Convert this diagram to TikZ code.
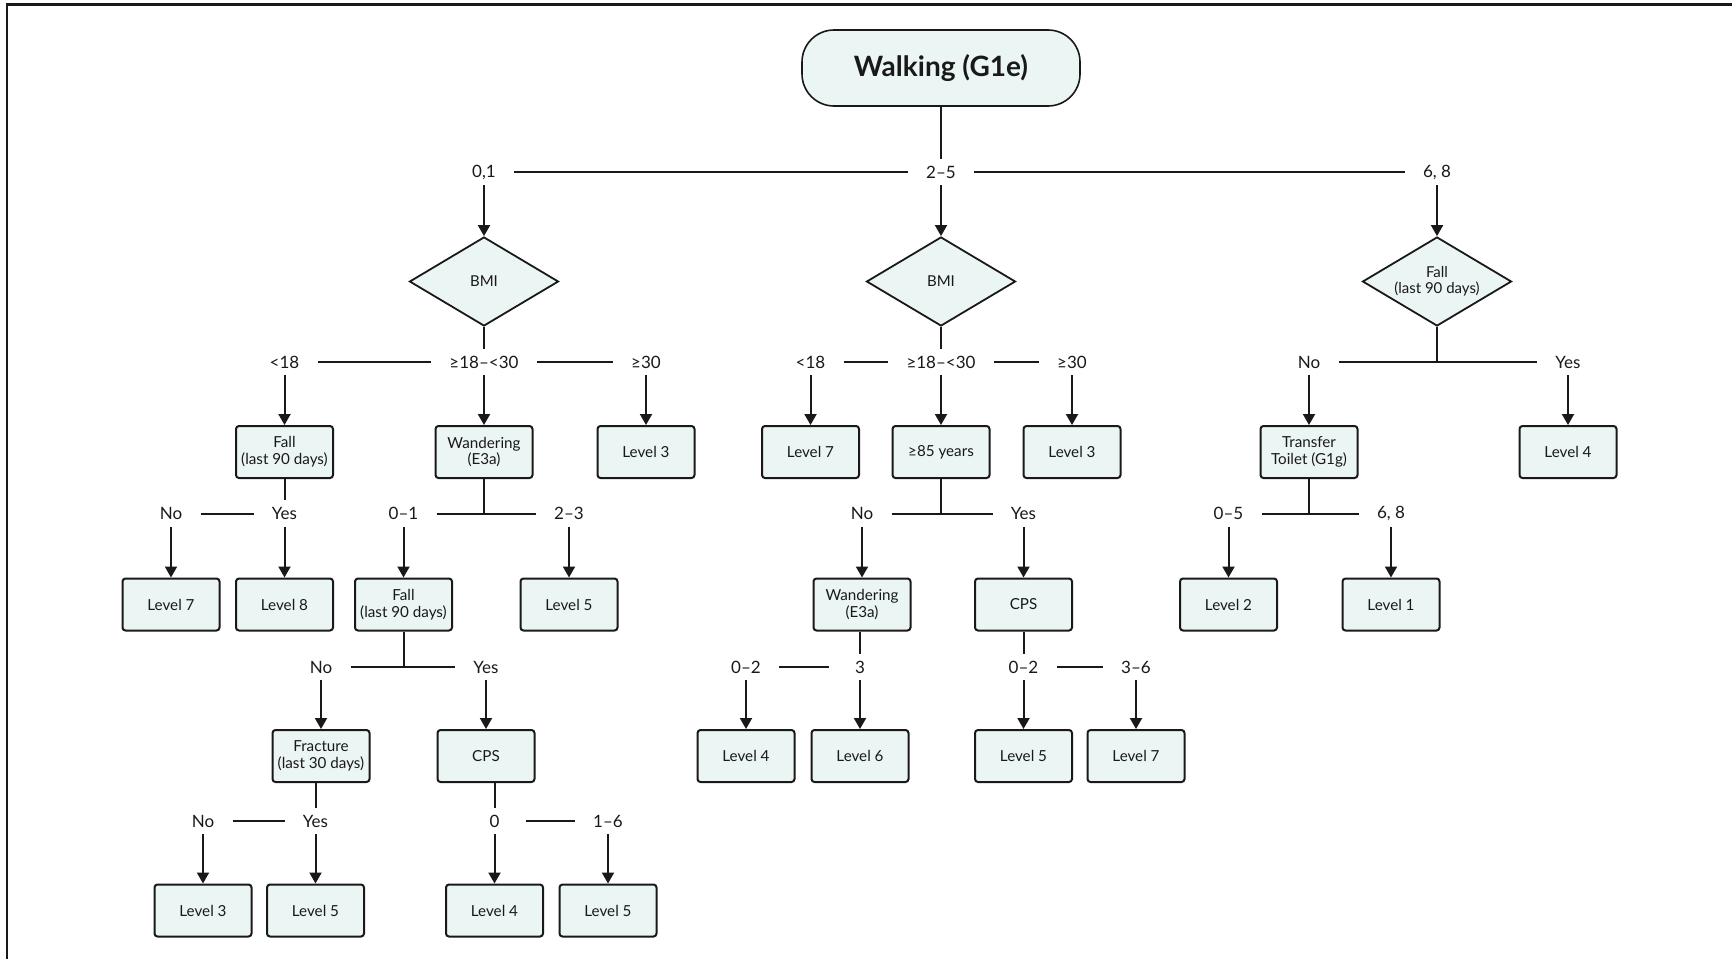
\documentclass[tikz,border=0pt]{standalone}
\usepackage{fontspec}
\setmainfont{Lato}
\usetikzlibrary{shapes.geometric,arrows.meta}
\definecolor{mint}{RGB}{235,245,243}
\definecolor{ink}{RGB}{25,25,25}
\tikzset{
  box/.style={draw=ink, line width=1pt, fill=mint, rounded corners=1.5pt,
    minimum width=48.5pt, minimum height=26pt, inner sep=0pt, align=center,
    font=\fontsize{7.6}{8.4}\selectfont, text=ink},
  dia/.style={draw=ink, line width=0.9pt, fill=mint, diamond, aspect=1.67,
    minimum width=74.5pt, minimum height=44.5pt, inner sep=0pt, align=center,
    font=\fontsize{7.5}{8}\selectfont, text=ink},
  lbl/.style={inner xsep=9pt, inner ysep=0pt, minimum height=13pt,
    font=\fontsize{8.5}{9}\selectfont, text=ink},
  ln/.style={draw=ink, line width=1pt},
  arr/.style={ln, -{Triangle[length=5.5pt,width=6pt]}},
}
\begin{document}
\begin{tikzpicture}[x=0.5pt,y=-0.5pt]
\useasboundingbox (0,0) rectangle (1732,959);
\fill[white] (0,0) rectangle (1732,959);
\draw[line width=1.2pt, draw=ink] (7,959) -- (7,4.5) -- (1732,4.5);

% root
\node[box, rounded corners=16pt, minimum width=139pt, minimum height=38pt,
  font=\bfseries\fontsize{14}{16}\selectfont, line width=0.8pt] (W) at (941,68) {Walking (G1e)};

% row 1
\node[lbl] (l01) at (484,172) {0,1};
\node[lbl] (l25) at (941,172) {2–5};
\node[lbl] (l68) at (1437,172) {6, 8};
\draw[ln] (W.south) -- (l25.north);
\draw[ln] (l01.east) -- (l25.west);
\draw[ln] (l25.east) -- (l68.west);

\node[dia] (D1) at (484,281.5) {BMI};
\node[dia] (D2) at (941,281.5) {BMI};
\node[dia] (D3) at (1437,281.5) {Fall\\(last 90 days)};
\draw[arr] (l01.south) -- (D1.north);
\draw[arr] (l25.south) -- (D2.north);
\draw[arr] (l68.south) -- (D3.north);

% row 2 labels
\node[lbl] (a18) at (284.5,362) {<18};
\node[lbl] (a1830) at (484,362) {≥18–<30};
\node[lbl] (a30) at (646,362) {≥30};
\draw[ln] (D1.south) -- (a1830.north);
\draw[ln] (a18.east) -- (a1830.west);
\draw[ln] (a1830.east) -- (a30.west);

\node[lbl] (b18) at (810.5,362) {<18};
\node[lbl] (b1830) at (941,362) {≥18–<30};
\node[lbl] (b30) at (1072,362) {≥30};
\draw[ln] (D2.south) -- (b1830.north);
\draw[ln] (b18.east) -- (b1830.west);
\draw[ln] (b1830.east) -- (b30.west);

\node[lbl] (cNo) at (1309,362) {No};
\node[lbl] (cYes) at (1568,362) {Yes};
\draw[ln] (cNo.east) -- (cYes.west);
\draw[ln] (D3.south) -- (D3.south |- cNo.east);

% row A boxes
\node[box] (FallA) at (284.5,452) {Fall\\(last 90 days)};
\node[box] (WandA) at (484,452) {Wandering\\(E3a)};
\node[box] (L3a) at (646,452) {Level 3};
\node[box] (L7b) at (810.5,452) {Level 7};
\node[box] (Age) at (941,452) {≥85 years};
\node[box] (L3b) at (1072,452) {Level 3};
\node[box] (Trans) at (1309,452) {Transfer\\Toilet (G1g)};
\node[box] (L4c) at (1568,452) {Level 4};
\draw[arr] (a18.south) -- (FallA.north);
\draw[arr] (a1830.south) -- (WandA.north);
\draw[arr] (a30.south) -- (L3a.north);
\draw[arr] (b18.south) -- (L7b.north);
\draw[arr] (b1830.south) -- (Age.north);
\draw[arr] (b30.south) -- (L3b.north);
\draw[arr] (cNo.south) -- (Trans.north);
\draw[arr] (cYes.south) -- (L4c.north);

% row 3 labels
\node[lbl] (dNo) at (171,513.5) {No};
\node[lbl] (dYes) at (284.5,513.5) {Yes};
\draw[ln] (FallA.south) -- (dYes.north);
\draw[ln] (dNo.east) -- (dYes.west);
\node[lbl] (e01) at (403.5,513.5) {0–1};
\node[lbl] (e23) at (569,513.5) {2–3};
\draw[ln] (e01.east) -- (e23.west);
\draw[ln] (WandA.south) -- (WandA.south |- e01.east);
\node[lbl] (fNo) at (862,513.5) {No};
\node[lbl] (fYes) at (1023.5,513.5) {Yes};
\draw[ln] (fNo.east) -- (fYes.west);
\draw[ln] (Age.south) -- (Age.south |- fNo.east);
\node[lbl] (g05) at (1228.5,513.5) {0–5};
\node[lbl] (g68) at (1391,513.5) {6, 8};
\draw[ln] (g05.east) -- (g68.west);
\draw[ln] (Trans.south) -- (Trans.south |- g05.east);

% row B boxes
\node[box] (L7d) at (171,604.5) {Level 7};
\node[box] (L8d) at (284.5,604.5) {Level 8};
\node[box] (FallB) at (403.5,604.5) {Fall\\(last 90 days)};
\node[box] (L5e) at (569,604.5) {Level 5};
\node[box] (WandF) at (862,604.5) {Wandering\\(E3a)};
\node[box] (CPSf) at (1023.5,604.5) {CPS};
\node[box] (L2g) at (1228.5,604.5) {Level 2};
\node[box] (L1g) at (1391,604.5) {Level 1};
\draw[arr] (dNo.south) -- (L7d.north);
\draw[arr] (dYes.south) -- (L8d.north);
\draw[arr] (e01.south) -- (FallB.north);
\draw[arr] (e23.south) -- (L5e.north);
\draw[arr] (fNo.south) -- (WandF.north);
\draw[arr] (fYes.south) -- (CPSf.north);
\draw[arr] (g05.south) -- (L2g.north);
\draw[arr] (g68.south) -- (L1g.north);

% row 4 labels
\node[lbl] (hNo) at (321,667) {No};
\node[lbl] (hYes) at (486,667) {Yes};
\draw[ln] (hNo.east) -- (hYes.west);
\draw[ln] (FallB.south) -- (FallB.south |- hNo.east);
\node[lbl] (i02) at (746,667) {0–2};
\node[lbl, inner xsep=13pt] (i3) at (860,667) {3};
\draw[ln] (i02.east) -- (i3.west);
\draw[ln] (i3.north |- WandF.south) -- (i3.north);
\node[lbl] (j02) at (1023.5,667) {0–2};
\node[lbl] (j36) at (1136,667) {3–6};
\draw[ln] (j02.east) -- (j36.west);
\draw[ln] (CPSf.south) -- (j02.north);

% row C boxes
\node[box] (Frac) at (321,756) {Fracture\\(last 30 days)};
\node[box] (CPSh) at (486,756) {CPS};
\node[box] (L4i) at (746,756) {Level 4};
\node[box] (L6i) at (860,756) {Level 6};
\node[box] (L5j) at (1023.5,756) {Level 5};
\node[box] (L7j) at (1136,756) {Level 7};
\draw[arr] (hNo.south) -- (Frac.north);
\draw[arr] (hYes.south) -- (CPSh.north);
\draw[arr] (i02.south) -- (L4i.north);
\draw[arr] (i3.south) -- (L6i.north);
\draw[arr] (j02.south) -- (L5j.north);
\draw[arr] (j36.south) -- (L7j.north);

% row 5 labels
\node[lbl] (kNo) at (203,821) {No};
\node[lbl] (kYes) at (315.5,821) {Yes};
\draw[ln] (kNo.east) -- (kYes.west);
\draw[ln] (kYes.north |- Frac.south) -- (kYes.north);
\node[lbl, inner xsep=13pt] (m0) at (494.5,821) {0};
\node[lbl] (m16) at (608,821) {1–6};
\draw[ln] (m0.east) -- (m16.west);
\draw[ln] (m0.north |- CPSh.south) -- (m0.north);

% row D boxes
\node[box] (L3k) at (203,910.5) {Level 3};
\node[box] (L5k) at (315.5,910.5) {Level 5};
\node[box] (L4m) at (494.5,910.5) {Level 4};
\node[box] (L5m) at (608,910.5) {Level 5};
\draw[arr] (kNo.south) -- (L3k.north);
\draw[arr] (kYes.south) -- (L5k.north);
\draw[arr] (m0.south) -- (L4m.north);
\draw[arr] (m16.south) -- (L5m.north);
\end{tikzpicture}
\end{document}
